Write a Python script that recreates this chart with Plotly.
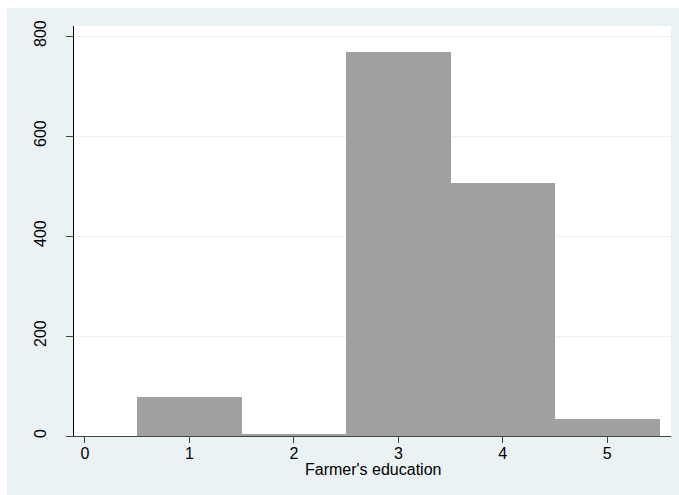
import plotly.graph_objects as go

# Farmer's education histogram (frequency per level)
education_levels = [1, 2, 3, 4, 5]
frequencies = [79, 5, 769, 507, 35]
y_ticks = [0, 200, 400, 600, 800]
x_ticks = [0, 1, 2, 3, 4, 5]
x_title = "Farmer's education"

W, H = 679, 495
L, R, T, B = 74, 8, 26, 59
outer_bg = "#EAF2F3"
font_family = "Liberation Sans, Arial, sans-serif"

fig = go.Figure(
    go.Bar(
        x=education_levels,
        y=frequencies,
        width=1,
        marker=dict(color="#A0A0A0", line=dict(width=0)),
        hoverinfo="x+y",
    )
)

pw = W - L - R
ph = H - T - B
# white strips around the light outer panel
fig.add_shape(type="rect", xref="paper", yref="paper", layer="below",
              x0=-L / pw, x1=(W - L) / pw, y0=(ph + T - 8) / ph, y1=(ph + T) / ph,
              fillcolor="white", line=dict(width=0))
fig.add_shape(type="rect", xref="paper", yref="paper", layer="below",
              x0=-L / pw, x1=(7 - L) / pw, y0=-B / ph, y1=(ph + T) / ph,
              fillcolor="white", line=dict(width=0))

# x-axis title placed just under the tick labels
fig.add_annotation(text=x_title, xref="paper", yref="paper",
                   x=0.5, y=-33 / ph, xanchor="center", yanchor="middle",
                   showarrow=False, font=dict(size=16))

fig.update_layout(
    width=W, height=H,
    margin=dict(l=L, r=R, t=T, b=B, pad=0),
    paper_bgcolor=outer_bg,
    plot_bgcolor="white",
    bargap=0,
    showlegend=False,
    font=dict(family=font_family, size=16, color="black"),
    xaxis=dict(
        range=[-0.105, 5.61],
        tickvals=x_ticks,
        ticktext=[str(v) for v in x_ticks],
        ticks="outside", ticklen=6, tickwidth=1, tickcolor="#444",
        showline=True, linecolor="#444", linewidth=1,
        showgrid=False, zeroline=False,
        tickfont=dict(size=16),
        ticklabelstandoff=-3,
    ),
    yaxis=dict(
        range=[0, 820],
        tickvals=y_ticks,
        ticktext=[str(v) for v in y_ticks],
        tickangle=-90,
        ticks="outside", ticklen=7, tickwidth=1, tickcolor="#444",
        showline=True, linecolor="black", linewidth=1,
        showgrid=True, gridcolor=outer_bg, gridwidth=1,
        zeroline=False,
        tickfont=dict(size=16),
        ticklabelstandoff=14,
    ),
)

fig.write_html("out.html")
